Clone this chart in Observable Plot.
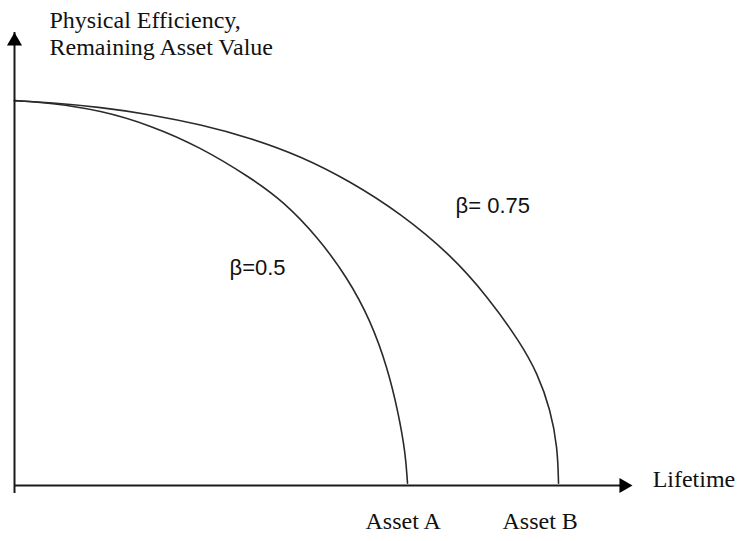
<!DOCTYPE html>
<html><head><meta charset="utf-8">
<script src="https://cdn.jsdelivr.net/npm/d3@7"></script>
<script src="https://cdn.jsdelivr.net/npm/@observablehq/plot@0.6"></script>
<style>body{margin:0;background:#fff}</style>
</head><body><div id="chart"></div>
<script>
// Curve for asset A (beta = 0.5): lifetime (0..10 = end of asset B) vs efficiency (0..1)
const lifetimeA   = [0, 0.662, 1.581, 2.5, 3.419, 4.338, 4.945, 5.57, 6.121, 6.544, 6.857, 7.059, 7.188, 7.224];
const efficiencyA = [1.0, 0.994, 0.975, 0.936, 0.879, 0.80, 0.738, 0.646, 0.54, 0.429, 0.306, 0.187, 0.083, 0.006];
// Curve for asset B (beta = 0.75)
const lifetimeB   = [0, 0.662, 1.581, 2.5, 3.419, 4.338, 5.257, 6.176, 7.096, 8.015, 8.695, 9.301, 9.614, 9.853, 9.982, 10.0];
const efficiencyB = [1.0, 0.995, 0.983, 0.964, 0.938, 0.903, 0.856, 0.790, 0.707, 0.600, 0.491, 0.371, 0.291, 0.197, 0.099, 0.006];

const axisEnd = {x: 11.36, y: 1.177};
const yAxisTitle = ["Physical Efficiency,", "Remaining Asset Value"];
const xAxisTitle = "Lifetime";
const betaLabels = [
  {text: "β=0.5",   x: 3.952, y: 0.548},
  {text: "β= 0.75", x: 8.107, y: 0.709}
];
const assetLabels = [
  {text: "Asset A", x: 6.452, y: -0.114},
  {text: "Asset B", x: 8.97,  y: -0.114}
];

const curveA = lifetimeA.map((x, i) => ({x, y: efficiencyA[i]}));
const curveB = lifetimeB.map((x, i) => ({x, y: efficiencyB[i]}));

const serif = "'Liberation Serif', 'Times New Roman', serif";
const sans = "'Liberation Sans', Arial, sans-serif";

const chart = Plot.plot({
  width: 741,
  height: 541,
  marginLeft: 14,
  marginRight: 109,
  marginTop: 32,
  marginBottom: 56,
  x: {domain: [0, axisEnd.x], axis: null},
  y: {domain: [0, axisEnd.y], axis: null},
  marks: [
    Plot.line(curveA, {x: "x", y: "y", curve: "basis", stroke: "#2a2a2a", strokeWidth: 1.6}),
    Plot.line(curveB, {x: "x", y: "y", curve: "basis", stroke: "#2a2a2a", strokeWidth: 1.6}),
    Plot.ruleX([0], {y1: 0, y2: axisEnd.y, insetTop: 8, stroke: "#1a1a1a", strokeWidth: 2}),
    Plot.ruleY([0], {x1: 0, x2: axisEnd.x, insetRight: 8, stroke: "#1a1a1a", strokeWidth: 2}),
    Plot.dot([{x: 0, y: axisEnd.y}], {x: "x", y: "y", symbol: "triangle", r: 5.6, fill: "#000", stroke: "none", dy: 8.7}),
    Plot.dot([{x: axisEnd.x, y: 0}], {x: "x", y: "y", symbol: "triangle", r: 5.6, fill: "#000", stroke: "none", rotate: 90, dx: -8.7}),
    Plot.text([yAxisTitle.join("\n")], {x: 0.643, y: 1.1195, text: d => d, textAnchor: "start", lineAnchor: "bottom", lineHeight: 1.13, fontFamily: serif, fontSize: 24, fill: "#111"}),
    Plot.text([xAxisTitle], {x: 11.73, y: -0.004, text: d => d, textAnchor: "start", lineAnchor: "bottom", fontFamily: serif, fontSize: 24, fill: "#111"}),
    Plot.text(assetLabels, {x: "x", y: "y", text: "text", textAnchor: "start", lineAnchor: "bottom", fontFamily: serif, fontSize: 24, fill: "#111"}),
    Plot.text(betaLabels, {x: "x", y: "y", text: "text", textAnchor: "start", lineAnchor: "bottom", fontFamily: sans, fontSize: 22, fill: "#111"})
  ]
});
document.getElementById("chart").appendChild(chart);
</script>
</body></html>
